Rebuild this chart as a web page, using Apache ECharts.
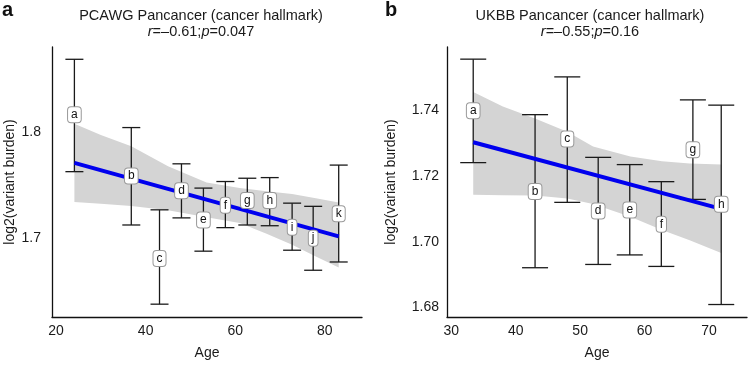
<!DOCTYPE html>
<html><head><meta charset="utf-8">
<script src="https://cdn.jsdelivr.net/npm/echarts@6/dist/echarts.min.js"></script>
<style>html,body{margin:0;padding:0;background:#fff}#c{width:748px;height:365px}</style>
</head><body><div id="c"></div>
<script>
// ---------- Panel a: PCAWG ----------
const labelsA = ['a','b','c','d','e','f','g','h','i','j','k'];
const ageA   = [24.1, 36.8, 43.1, 48.0, 52.9, 57.8, 62.7, 67.7, 72.7, 77.4, 83.1];
const meanA  = [1.8167, 1.759, 1.681, 1.7451, 1.7173, 1.7312, 1.7358, 1.7358, 1.7105, 1.7003, 1.7234];
const upperA = [1.869, 1.8046, 1.727, 1.7704, 1.7475, 1.7537, 1.7568, 1.7574, 1.7333, 1.7303, 1.7692];
const lowerA = [1.763, 1.7127, 1.638, 1.7194, 1.688, 1.7102, 1.7127, 1.712, 1.6889, 1.670, 1.6778];
const fitAgeA = [24.1, 83.1];
const fitA    = [1.7713, 1.7019];
const bandAgeA = [24.1, 30, 36.8, 45, 53.6, 61, 67, 72.7, 78, 83.1];
const bandLoA  = [1.7343, 1.7328, 1.7306, 1.7265, 1.720, 1.7145, 1.7045, 1.694, 1.683, 1.6725];
const bandHiA  = [1.8083, 1.7975, 1.787, 1.768, 1.7528, 1.7475, 1.7445, 1.742, 1.738, 1.734];
const xTicksA = [20, 40, 60, 80];
const yTicksA = [1.7, 1.8];
const titleA = 'PCAWG Pancancer (cancer hallmark)';
const statA = ['-0.61', '0.047'];

// ---------- Panel b: UKBB ----------
const labelsB = ['a','b','c','d','e','f','g','h'];
const ageB   = [33.4, 43.0, 48.0, 52.8, 57.7, 62.6, 67.5, 71.9];
const meanB  = [1.7399, 1.7153, 1.7313, 1.7094, 1.7097, 1.7053, 1.7280, 1.7114];
const upperB = [1.7556, 1.7387, 1.7502, 1.7257, 1.7235, 1.7183, 1.7432, 1.7416];
const lowerB = [1.7241, 1.6921, 1.7120, 1.6931, 1.6960, 1.6925, 1.7129, 1.6809];
const fitAgeB = [33.4, 71.9];
const fitB    = [1.7303, 1.7100];
const bandAgeB = [33.4, 38, 43.0, 48.0, 52.0, 57.8, 62.7, 67, 71.9];
const bandLoB  = [1.7143, 1.7142, 1.7141, 1.7132, 1.7115, 1.7076, 1.7036, 1.7005, 1.6966];
const bandHiB  = [1.7456, 1.7412, 1.7375, 1.7335, 1.7290, 1.7260, 1.7245, 1.7238, 1.7235];
const xTicksB = [30, 40, 50, 60, 70];
const yTicksB = [1.68, 1.70, 1.72, 1.74];
const titleB = 'UKBB Pancancer (cancer hallmark)';
const statB = ['-0.55', '0.16'];

const FONT = '"Liberation Sans", Arial, Helvetica, sans-serif';
const TXT = '#1a1a1a';
const FS = 14;

function bandSeries(idx, ages, lo, hi) {
  return {
    type: 'custom', xAxisIndex: idx, yAxisIndex: idx, silent: true, z: 1,
    data: [[ages[0], lo[0]]],
    renderItem: function (params, api) {
      const pts = [];
      for (let i = 0; i < ages.length; i++) pts.push(api.coord([ages[i], hi[i]]));
      for (let i = ages.length - 1; i >= 0; i--) pts.push(api.coord([ages[i], lo[i]]));
      return { type: 'polygon', shape: { points: pts }, style: { fill: '#d4d4d4' } };
    }
  };
}
function errSeries(idx, ages, lo, hi, cap, z) {
  return {
    type: 'custom', xAxisIndex: idx, yAxisIndex: idx, silent: true, z: z,
    data: ages.map((a, i) => [a, lo[i], hi[i]]),
    renderItem: function (params, api) {
      const top = api.coord([api.value(0), api.value(2)]);
      const bot = api.coord([api.value(0), api.value(1)]);
      const st = { stroke: '#1a1a1a', lineWidth: 1.3 };
      return { type: 'group', children: [
        { type: 'line', shape: { x1: top[0], y1: top[1], x2: bot[0], y2: bot[1] }, style: st },
        { type: 'line', shape: { x1: top[0] - cap, y1: top[1], x2: top[0] + cap, y2: top[1] }, style: st },
        { type: 'line', shape: { x1: bot[0] - cap, y1: bot[1], x2: bot[0] + cap, y2: bot[1] }, style: st }
      ]};
    }
  };
}
function fitSeries(idx, ages, vals) {
  return {
    type: 'line', xAxisIndex: idx, yAxisIndex: idx, silent: true, z: 3, symbol: 'none',
    data: ages.map((a, i) => [a, vals[i]]),
    lineStyle: { color: '#0000ee', width: 4 }
  };
}
function labelSeries(idx, ages, vals, labs) {
  return {
    type: 'custom', xAxisIndex: idx, yAxisIndex: idx, silent: true, z: 5,
    data: ages.map((a, i) => [a, vals[i], i]),
    renderItem: function (params, api) {
      const p = api.coord([api.value(0), api.value(1)]);
      return {
        type: 'text', x: p[0], y: p[1],
        style: {
          text: labs[api.value(2)], align: 'center', verticalAlign: 'middle',
          font: '12px ' + FONT, fill: '#111',
          backgroundColor: '#fff', borderColor: '#999', borderWidth: 1, borderRadius: 3,
          padding: [2, 3, 1, 3], lineHeight: 12
        }
      };
    }
  };
}
function xAxis(idx, min, max, ticks) {
  return {
    type: 'value', gridIndex: idx, min: min, max: max,
    name: 'Age', nameLocation: 'middle', nameGap: 29,
    nameTextStyle: { fontSize: FS, fontFamily: FONT, color: TXT },
    axisLine: { lineStyle: { color: '#111', width: 1.3 } },
    axisTick: { show: false },
    splitLine: { show: false },
    axisLabel: { customValues: ticks, fontSize: FS, fontFamily: FONT, color: TXT, margin: 7 }
  };
}
function yAxis(idx, min, max, ticks, gap, dec, margin) {
  return {
    type: 'value', gridIndex: idx, min: min, max: max,
    name: 'log2(variant burden)', nameLocation: 'middle', nameGap: gap, nameRotate: 90,
    nameTextStyle: { fontSize: FS, fontFamily: FONT, color: TXT },
    axisLine: { show: true, lineStyle: { color: '#111', width: 1.3 } },
    axisTick: { show: false },
    splitLine: { show: false },
    axisLabel: { customValues: ticks, formatter: v => v.toFixed(dec), fontSize: FS, fontFamily: FONT, color: TXT, margin: margin }
  };
}
function titleGraphics(cx, title, stat) {
  return [
    { type: 'text', x: cx, y: 16, style: { text: title, align: 'center', verticalAlign: 'middle', font: '14.5px ' + FONT, fill: TXT } },
    { type: 'text', x: cx, y: 32, style: {
      text: '{i|r}{n|=\u2013' + stat[0].replace('-', '') + ';}{i|p}{n|=' + stat[1] + '}',
      align: 'center', verticalAlign: 'middle',
      rich: { i: { fontStyle: 'italic', fontSize: 14.5, fontFamily: FONT, fill: TXT }, n: { fontSize: 14.5, fontFamily: FONT, fill: TXT } }
    } }
  ];
}

const chart = echarts.init(document.getElementById('c'), null, { renderer: 'canvas' });
const graphics = []
  .concat(titleGraphics(201, titleA, statA))
  .concat(titleGraphics(590, titleB, statB))
  .concat([
    { type: 'text', x: 2, y: 0, style: { text: 'a', font: 'bold 20px ' + FONT, fill: '#111' } },
    { type: 'text', x: 385, y: 0, style: { text: 'b', font: 'bold 20px ' + FONT, fill: '#111' } }
  ]);

chart.setOption({
  animation: false,
  backgroundColor: '#fff',
  grid: [
    { left: 52, top: 47, width: 310, height: 275 },
    { left: 447, top: 47, width: 300, height: 275 }
  ],
  xAxis: [xAxis(0, 19.1, 88.3, xTicksA), xAxis(1, 29.33, 75.9, xTicksB)],
  yAxis: [yAxis(0, 1.6259, 1.8806, yTicksA, 34, 1, 11), yAxis(1, 1.6771, 1.7593, yTicksB, 49, 2, 8)],
  graphic: graphics,
  series: [
    bandSeries(0, bandAgeA, bandLoA, bandHiA),
    errSeries(0, ageA, lowerA, upperA, 9, 2),
    fitSeries(0, fitAgeA, fitA),
    labelSeries(0, ageA, meanA, labelsA),
    bandSeries(1, bandAgeB, bandLoB, bandHiB),
    errSeries(1, ageB, lowerB, upperB, 13, 2),
    fitSeries(1, fitAgeB, fitB),
    labelSeries(1, ageB, meanB, labelsB)
  ]
});
</script></body></html>
